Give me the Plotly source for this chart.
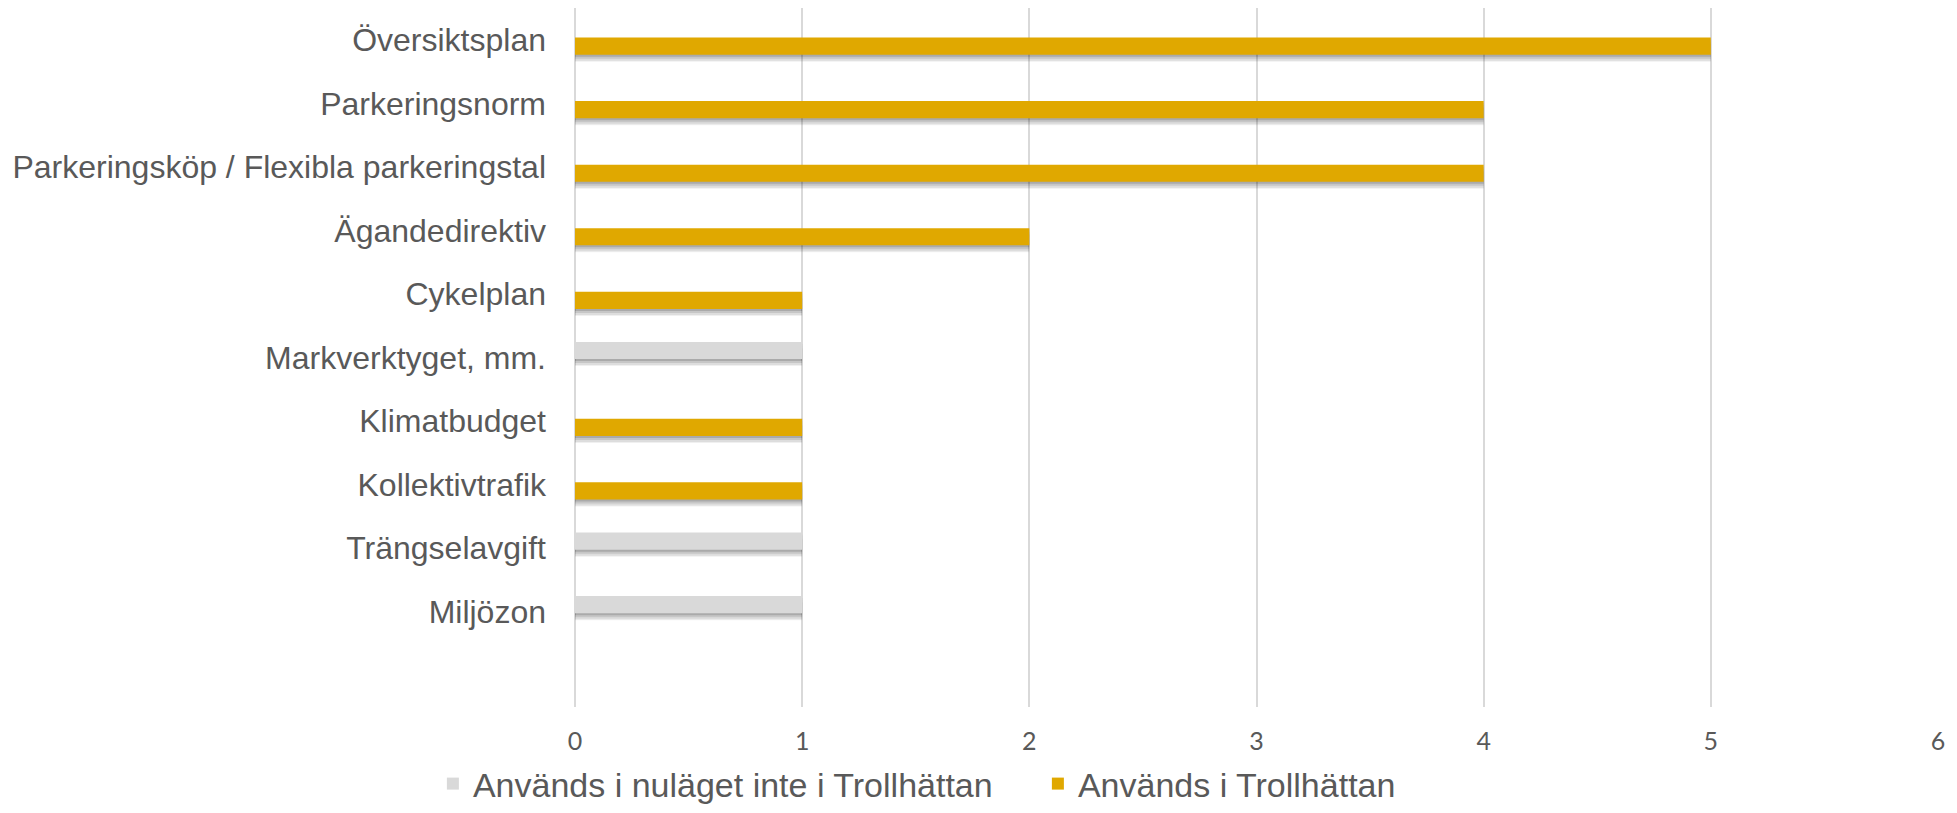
import plotly.graph_objects as go

categories = ["Översiktsplan", "Parkeringsnorm", "Parkeringsköp / Flexibla parkeringstal",
              "Ägandedirektiv", "Cykelplan", "Markverktyget, mm.", "Klimatbudget",
              "Kollektivtrafik", "Trängselavgift", "Miljözon"]
not_used = [0, 0, 0, 0, 0, 1, 0, 0, 1, 1]
used = [5, 4, 4, 2, 1, 0, 1, 1, 0, 0]
series_names = ["Används i nuläget inte i Trollhättan", "Används i Trollhättan"]
x_ticks = [0, 1, 2, 3, 4, 5, 6]

pos = list(range(len(categories)))
W = 0.27
SLOT = 63.5  # px per category (used only for shadow offset conversion)

fig = go.Figure()

def add_series(vals, name, color, center):
    off = center - W / 2
    # soft drop shadow layers
    for dpx, alpha in [(7, 0.06), (6, 0.08), (4, 0.10), (2, 0.14)]:
        fig.add_trace(go.Bar(
            y=pos, x=vals, orientation="h", width=W, offset=off + dpx / SLOT,
            marker=dict(color=f"rgba(0,0,0,{alpha})", line=dict(width=0)),
            showlegend=False, hoverinfo="skip"))
    fig.add_trace(go.Bar(
        y=pos, x=vals, orientation="h", width=W, offset=off, name=name,
        marker=dict(color=color, line=dict(width=0))))

add_series(not_used, series_names[0], "#D9D9D9", -0.11)
add_series(used, series_names[1], "#E0A800", 0.10)

fig.update_layout(
    width=1949, height=805,
    margin=dict(l=567, r=19, t=0, b=106),
    paper_bgcolor="white", plot_bgcolor="white",
    barmode="overlay",
    font=dict(family="Liberation Sans, Arial", color="#595959"),
    legend=dict(orientation="h", xref="container", yref="container",
                x=0.218, y=0.0, xanchor="left", yanchor="bottom",
                font=dict(size=34, family="Liberation Sans, Arial", color="#595959"),
                entrywidth=560, entrywidthmode="pixels", traceorder="normal"),
    xaxis=dict(range=[0, 6], tickvals=x_ticks, showgrid=True, gridcolor="#D9D9D9",
               gridwidth=1.5, zeroline=True, zerolinecolor="#D9D9D9", zerolinewidth=1.5,
               showline=False, ticks="", ticklabelstandoff=17,
               tickfont=dict(family="Lato, Open Sans", size=25, color="#595959")),
    yaxis=dict(range=[10.5, -0.5], tickvals=pos, ticktext=categories, showgrid=False,
               zeroline=False, showline=False, ticks="", ticklabelstandoff=28,
               tickfont=dict(family="Liberation Sans, Arial", size=32, color="#595959")),
)

fig.write_html("out.html")
